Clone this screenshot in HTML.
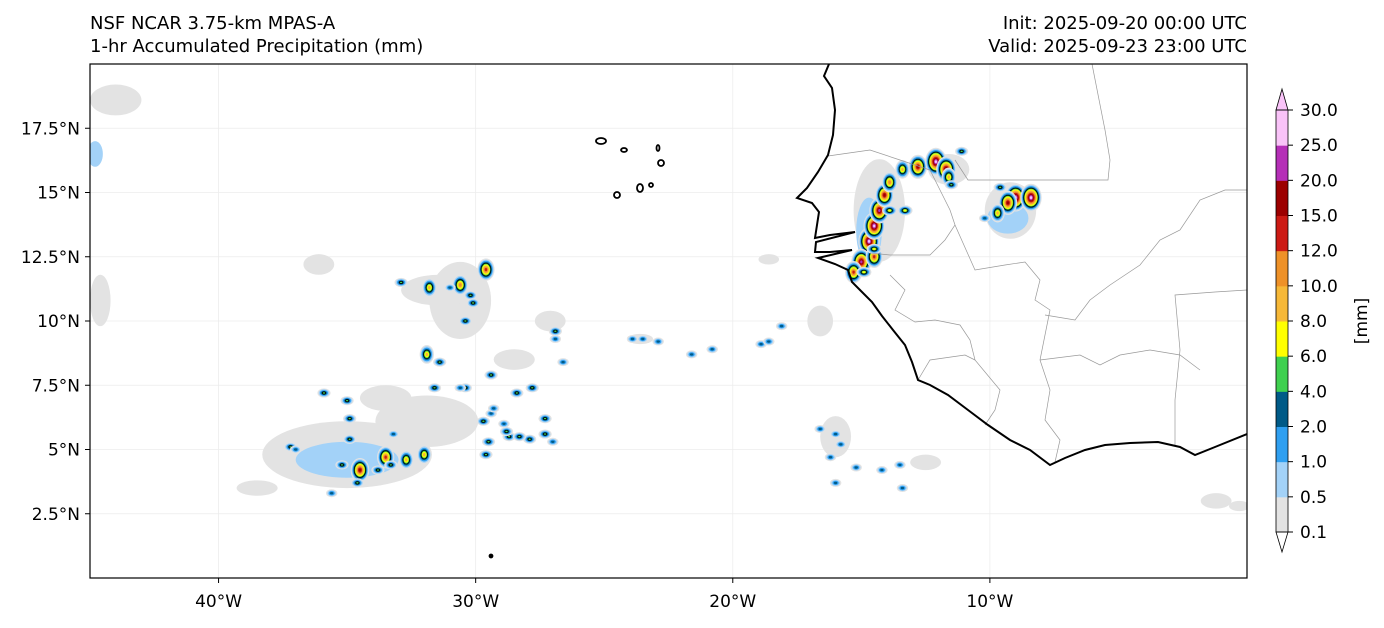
<!DOCTYPE html>
<html><head><meta charset="utf-8"><style>
body{margin:0;background:#fff;font-family:"Liberation Sans","DejaVu Sans",sans-serif;}
svg text{font-family:"DejaVu Sans","Liberation Sans",sans-serif;}
</style></head><body>
<svg id="chart" width="1384" height="623" xmlns="http://www.w3.org/2000/svg">
<rect width="1384" height="623" fill="#fff"/>
<text x="90" y="29" font-size="18">NSF NCAR 3.75-km MPAS-A</text>
<text x="90" y="52" font-size="18">1-hr Accumulated Precipitation (mm)</text>
<text x="1247" y="29" font-size="18" text-anchor="end">Init: 2025-09-20 00:00 UTC</text>
<text x="1247" y="52" font-size="18" text-anchor="end">Valid: 2025-09-23 23:00 UTC</text>
<defs><clipPath id="mapclip"><rect x="90" y="64" width="1157" height="514"/></clipPath></defs>
<g id="grid"></g>
<g id="precip" clip-path="url(#mapclip)"></g>
<g clip-path="url(#mapclip)" fill="none" stroke="#999" stroke-width="0.7">
<path d="M1092,64 L1105,130 L1110,160 L1108,180 L968,180 L955,160"/>
<path d="M828,156 L870,150 L900,160 L930,170 L940,190 L950,210 L955,225 L945,240 L930,255 L890,255 L870,253"/>
<path d="M955,225 L975,270 L1005,265 L1025,262 L1040,280 L1035,300 L1050,310 L1045,335 L1040,360"/>
<path d="M1247,190 L1225,190 L1200,200 L1180,230 L1160,240 L1140,265 L1110,285 L1090,300 L1075,320 L1045,315"/>
<path d="M890,275 L905,290 L895,310 L915,322 L935,320 L960,325 L970,340 L975,360 L990,378 L1000,390 L995,410 L985,425"/>
<path d="M918,380 L930,360 L965,355 L975,360"/>
<path d="M1040,360 L1050,390 L1045,420 L1060,440 L1055,462"/>
<path d="M1040,360 L1080,355 L1100,365 L1120,355 L1150,350 L1180,355 L1200,370"/>
<path d="M1175,445 L1175,400 L1180,350 L1175,295 L1215,292 L1247,290"/>
</g>
<g clip-path="url(#mapclip)" fill="none" stroke="#000" stroke-width="2">
<path d="M829,64 L824,76 L832,88 L835,110 L833,135 L828,155 L818,172 L807,188 L797,198 L812,203 L819,212 L817,225 L815,238 L830,235 L855,232 L816,242 L815,252 L830,252 L852,250 L818,258 L835,264 L848,270 L852,282 L860,290 L872,302 L882,316 L893,330 L905,345 L912,362 L918,380 L930,385 L948,395 L968,410 L988,425 L1010,440 L1030,450 L1050,465 L1065,458 L1085,450 L1105,445 L1130,443 L1158,442 L1180,447 L1195,455 L1215,447 L1247,434"/>
</g>
<g fill="none" stroke="#000" stroke-width="1.8">
<ellipse cx="601" cy="141" rx="5" ry="3"/><ellipse cx="624" cy="150" rx="3" ry="2"/><ellipse cx="658" cy="148" rx="1.5" ry="3"/>
<ellipse cx="661" cy="163" rx="3" ry="3"/><ellipse cx="617" cy="195" rx="3" ry="3"/><ellipse cx="640" cy="188" rx="3" ry="4"/><ellipse cx="651" cy="185" rx="2" ry="2"/>
<circle cx="491" cy="556" r="1.5" fill="#000"/>
</g>
<rect x="90" y="64" width="1157" height="514" fill="none" stroke="#000" stroke-width="1.2"/>
<g id="axes" font-size="17"></g>
<g id="cbar"></g>
<text font-size="17" transform="translate(1367,321) rotate(-90)" text-anchor="middle">[mm]</text>
</svg>
<script>
const NS="http://www.w3.org/2000/svg";
const levels=[0.1,0.5,1.0,2.0,4.0,6.0,8.0,10.0,12.0,15.0,20.0,25.0,30.0];
const colors=["#e3e3e3","#a3d2f8","#2f9ff0","#005a87","#3fd04f","#ffff00","#f6b838","#ee9128","#cc1a14","#9c0000","#b52fb7","#f9c3f8"];
const lonTicks=[-40,-30,-20,-10];
const latTicks=[2.5,5,7.5,10,12.5,15,17.5];
// background light rain patches: lon, lat, rx(deg), ry(deg), level index
const patchLon=[-35.0,-31.9,-30.6,-31.4,-27.1,-44.0,-44.6,-36.1,-16.6,-18.6,-14.3,-9.2,-11.6,-1.2,-23.6,-35.0,-14.7,-9.3,-38.5,-33.5,-28.5,-16.0,-12.5,-0.3,-44.8];
const patchLat=[4.8,6.1,10.8,11.2,10.0,18.6,10.8,12.2,10.0,12.4,14.3,14.3,15.9,3.0,9.3,4.6,13.5,14.0,3.5,7.0,8.5,5.5,4.5,2.8,16.5];
const patchRx=[3.3,2.0,1.2,1.5,0.6,1.0,0.4,0.6,0.5,0.4,1.0,1.0,0.8,0.6,0.5,2.0,0.5,0.8,0.8,1.0,0.8,0.6,0.6,0.4,0.3];
const patchRy=[1.3,1.0,1.5,0.6,0.4,0.6,1.0,0.4,0.6,0.2,2.0,1.1,0.6,0.3,0.2,0.7,1.3,0.6,0.3,0.5,0.4,0.8,0.3,0.2,0.5];
const patchLvl=[0,0,0,0,0,0,0,0,0,0,0,0,0,0,0,1,1,1,0,0,0,0,0,0,1];
// convective cells: lon, lat, max value (mm)
const cellLon=[-37.2,-35.2,-34.5,-33.5,-33.3,-32.7,-32.0,-35.9,-35.0,-34.9,-34.9,-37.0,-33.8,-33.2,-34.6,-35.6,-30.4,-31.6,-31.4,-31.9,-29.4,-28.4,-27.8,-27.3,-29.7,-28.7,-27.9,-27.3,-28.8,-29.5,-29.6,-28.3,-30.6,-29.4,-28.9,-29.3,-27.0,-29.6,-32.9,-31.8,-30.6,-30.2,-30.1,-30.4,-31.0,-26.9,-26.9,-26.6,-23.9,-23.5,-22.9,-21.6,-20.8,-18.9,-18.6,-18.1,-16.0,-16.2,-15.8,-16.6,-15.2,-14.2,-13.5,-16.0,-13.4,-14.7,-14.5,-14.3,-14.1,-13.9,-15.0,-15.3,-14.5,-13.4,-12.8,-12.1,-11.7,-11.6,-11.5,-11.1,-9.0,-8.4,-9.3,-9.7,-9.6,-10.2,-13.3,-13.9,-14.5,-14.9];
const cellLat=[5.1,4.4,4.2,4.7,4.4,4.6,4.8,7.2,6.9,6.2,5.4,5.0,4.2,5.6,3.7,3.3,7.4,7.4,8.4,8.7,7.9,7.2,7.4,6.2,6.1,5.5,5.4,5.6,5.7,5.3,4.8,5.5,7.4,6.4,6.0,6.6,5.3,12.0,11.5,11.3,11.4,11.0,10.7,10.0,11.3,9.6,9.3,8.4,9.3,9.3,9.2,8.7,8.9,9.1,9.2,9.8,5.6,4.7,5.2,5.8,4.3,4.2,4.4,3.7,3.5,13.1,13.7,14.3,14.9,15.4,12.3,11.9,12.5,15.9,16.0,16.2,15.9,15.6,15.3,16.6,14.8,14.8,14.6,14.2,15.2,14.0,14.3,14.3,12.8,11.9];
const cellVal=[5,5,15,12,5,8,8,5,5,5,4,2,5,2,5,3,5,5,5,8,5,5,5,5,5,5,5,5,5,5,5,5,3,3,3,3,3,12,5,8,10,4,5,5,3,5,3,2,3,3,3,3,2,3,3,2,3,3,3,3,2,2,2,3,2,30,25,20,15,10,20,12,12,8,15,30,20,8,5,5,30,25,15,8,5,3,6,6,6,6];
const x0=90,x1=1247,y0=64,y1=578,lonMin=-45,lonMax=0,latMin=0,latMax=20;
const xs=lon=>x0+(lon-lonMin)/(lonMax-lonMin)*(x1-x0);
const ys=lat=>y1-(lat-latMin)/(latMax-latMin)*(y1-y0);
const pxDeg=(x1-x0)/(lonMax-lonMin);
function lvlIndex(v){let k=0;for(let i=0;i<levels.length-1;i++){if(v>=levels[i])k=i;}return k;}
const gridG=document.getElementById('grid');
lonTicks.forEach(l=>{const ln=document.createElementNS(NS,'line');


ln.setAttribute('x1',xs(l));ln.setAttribute('x2',xs(l));ln.setAttribute('y1',y0);ln.setAttribute('y2',y1);ln.setAttribute('stroke','#ececec');ln.setAttribute('stroke-width','0.8');gridG.appendChild(ln);});
latTicks.forEach(l=>{const ln=document.createElementNS(NS,'line');


ln.setAttribute('x1',x0);ln.setAttribute('x2',x1);ln.setAttribute('y1',ys(l));ln.setAttribute('y2',ys(l));ln.setAttribute('stroke','#ececec');ln.setAttribute('stroke-width','0.8');gridG.appendChild(ln);});
const prG=document.getElementById('precip');
patchLon.forEach((lon,i)=>{const e=document.createElementNS(NS,'ellipse');


e.setAttribute('cx',xs(lon));e.setAttribute('cy',ys(patchLat[i]));e.setAttribute('rx',patchRx[i]*pxDeg);e.setAttribute('ry',patchRy[i]*pxDeg);e.setAttribute('fill',colors[patchLvl[i]]);prG.appendChild(e);});
cellLon.forEach((lon,i)=>{const L=lvlIndex(cellVal[i]);const big=L>=6;
 const g=document.createElementNS(NS,'g');
 
 
 for(let k=0;k<=L;k++){const f=(1-k/(L+1.3));
  const rx=(big?3+L*0.7:3+L*0.9)*f, ry=(big?4+L*0.9:2.2+L*0.6)*f;
  const e=document.createElementNS(NS,'ellipse');
  e.setAttribute('cx',xs(lon));e.setAttribute('cy',ys(cellLat[i]));e.setAttribute('rx',rx);e.setAttribute('ry',ry);e.setAttribute('fill',colors[k]);
  if(k===4){e.setAttribute('stroke','#000');e.setAttribute('stroke-width','0.8');}
  g.appendChild(e);}
 prG.appendChild(g);});
const axG=document.getElementById('axes');
lonTicks.forEach(l=>{const t=document.createElementNS(NS,'line');t.setAttribute('x1',xs(l));t.setAttribute('x2',xs(l));t.setAttribute('y1',y1);t.setAttribute('y2',y1+5);t.setAttribute('stroke','#000');axG.appendChild(t);
 const tx=document.createElementNS(NS,'text');
 
 
 tx.setAttribute('x',xs(l));tx.setAttribute('y',y1+29);tx.setAttribute('text-anchor','middle');tx.textContent=Math.abs(l)+'°W';axG.appendChild(tx);});
latTicks.forEach(l=>{const t=document.createElementNS(NS,'line');t.setAttribute('x1',x0-5);t.setAttribute('x2',x0);t.setAttribute('y1',ys(l));t.setAttribute('y2',ys(l));t.setAttribute('stroke','#000');axG.appendChild(t);
 const tx=document.createElementNS(NS,'text');
 
 
 tx.setAttribute('x',x0-10);tx.setAttribute('y',ys(l)+6);tx.setAttribute('text-anchor','end');tx.textContent=l+'°N';axG.appendChild(tx);});
const cbG=document.getElementById('cbar');const cbx=1276,cbw=12,cbTop=110,cbBot=532;const seg=(cbBot-cbTop)/(levels.length-1);
for(let i=0;i<levels.length-1;i++){const r=document.createElementNS(NS,'rect');
 
 
 r.setAttribute('x',cbx);r.setAttribute('y',cbBot-(i+1)*seg);r.setAttribute('width',cbw);r.setAttribute('height',seg+0.5);r.setAttribute('fill',colors[i]);cbG.appendChild(r);}
const triTop=document.createElementNS(NS,'path');triTop.setAttribute('d',`M${cbx},${cbTop} L${cbx+cbw/2},${cbTop-21} L${cbx+cbw},${cbTop} Z`);triTop.setAttribute('fill',colors[11]);triTop.setAttribute('stroke','#000');triTop.setAttribute('stroke-width','0.8');cbG.appendChild(triTop);
const triBot=document.createElementNS(NS,'path');triBot.setAttribute('d',`M${cbx},${cbBot} L${cbx+cbw/2},${cbBot+20} L${cbx+cbw},${cbBot} Z`);triBot.setAttribute('fill','#fff');triBot.setAttribute('stroke','#000');triBot.setAttribute('stroke-width','0.8');cbG.appendChild(triBot);
const cbFrame=document.createElementNS(NS,'rect');cbFrame.setAttribute('x',cbx);cbFrame.setAttribute('y',cbTop);cbFrame.setAttribute('width',cbw);cbFrame.setAttribute('height',cbBot-cbTop);cbFrame.setAttribute('fill','none');cbFrame.setAttribute('stroke','#000');cbFrame.setAttribute('stroke-width','0.8');cbG.appendChild(cbFrame);
levels.forEach((v,i)=>{const y=cbBot-i*seg;const t=document.createElementNS(NS,'line');t.setAttribute('x1',cbx+cbw);t.setAttribute('x2',cbx+cbw+5);t.setAttribute('y1',y);t.setAttribute('y2',y);t.setAttribute('stroke','#000');cbG.appendChild(t);
 const tx=document.createElementNS(NS,'text');
 
 
 tx.setAttribute('x',cbx+cbw+12);tx.setAttribute('y',y+6);tx.setAttribute('font-size','17');tx.textContent=v.toFixed(1);cbG.appendChild(tx);});
</script>
</body></html>
